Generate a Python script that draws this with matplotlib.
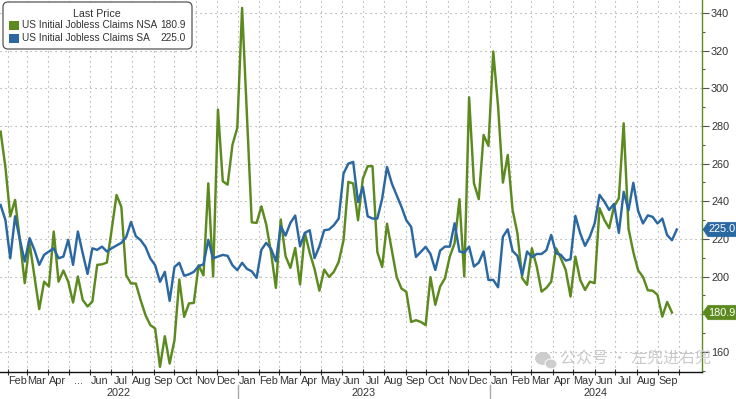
import matplotlib
matplotlib.use("Agg")
import matplotlib.pyplot as plt
import matplotlib.dates as mdates
import matplotlib.transforms as mtrans
from matplotlib import font_manager
from matplotlib.patches import FancyBboxPatch, Rectangle, Ellipse, Polygon
from matplotlib.ticker import FixedLocator, FixedFormatter, NullFormatter
import pandas as pd
import numpy as np

# ---------------- data ----------------
start_week = "2022-01-22"

nsa_name = "US Initial Jobless Claims NSA"
sa_name = "US Initial Jobless Claims SA"

nsa = [277, 258, 232, 240.7, 219, 196.5, 217.7, 200, 182.7, 197.3,
       194.7, 223.9, 197.3, 203.2, 197.3, 186.2, 200, 187.6, 184.1, 186.7,
       206.2, 206.5, 207.4, 225, 243.3, 237, 200.7, 196.3, 196.3, 187.4,
       179.5, 174.2, 172.4, 152, 168.3, 153.8, 166.2, 198.4, 178.6, 185.7,
       186, 206, 200.6, 249.5, 200, 288.7, 250.6, 248.8, 270, 278.9,
       342.7, 286, 228.8, 228.5, 237.3, 227.6, 212.6, 194, 230.3, 210.8,
       204.6, 215.2, 195.8, 223.2, 212.6, 204, 192.5, 203.7, 199.8, 202.5,
       207.8, 219.3, 250.3, 249.4, 229.9, 252, 258.6, 258.6, 213, 205.1,
       228.1, 214, 199.8, 193.6, 191.9, 175.9, 176.8, 175.9, 174.2, 199.7,
       185, 194.7, 199.1, 210.6, 217.7, 241.1, 200, 295.2, 249.6, 241.1,
       275.2, 269.4, 319.5, 290.3, 249.9, 264.6, 235.4, 223, 199.1, 195.6,
       215, 205.3, 192, 194, 197.3, 215, 209.7, 203.5, 189.4, 210.6,
       198.2, 192.9, 197.3, 196.5, 236.3, 230.1, 225.7, 237.2, 241.6, 281.4,
       225.5, 213, 203.3, 199.8, 192.7, 192.5, 190.3, 178.7, 186.5, 180.9]

sa = [238, 230, 209.7, 232, 219.5, 208, 220.4, 214.2, 206.2, 211.5,
      213.3, 215, 209.7, 210.6, 219.5, 206.2, 223.9, 212.4, 201.4, 215,
      214.2, 215.9, 213.3, 215, 216.5, 217.9, 221, 229, 221.4, 219.3,
      215.8, 209.6, 206, 197.2, 202.5, 187.1, 205.1, 207.3, 200.4, 201.2,
      202.5, 205.5, 206.5, 219.5, 209.7, 210.6, 211.5, 211, 206, 203.4,
      207.3, 204.1, 202.8, 199.3, 214.3, 217.9, 214.7, 208.1, 226.7, 221.8,
      228.5, 232.4, 216.1, 223.2, 224.6, 209.8, 216, 224.6, 225, 227.3,
      230.8, 254.7, 260, 260.9, 239.6, 247.6, 232, 230.8, 230.8, 241.4,
      258.2, 249.4, 243.2, 237, 229.9, 226.4, 210.4, 213.1, 215.8, 212,
      203.5, 213.8, 215.9, 215.9, 228.3, 213.3, 212.7, 215.9, 205.3, 207.4,
      213.3, 198.2, 198.2, 194.3, 221.2, 225.1, 213.6, 211, 200.9, 213.3,
      210.3, 212, 212, 214, 222.1, 212.4, 211.5, 208.5, 209.2, 232.2,
      223, 216.3, 221.2, 228.3, 243.4, 239.8, 235.4, 238.6, 223.2, 245,
      235.2, 249.8, 234.8, 228.2, 232.5, 231.7, 228.2, 230.8, 222, 219.3,
      225.0]

month_labels = ["Feb", "Mar", "Apr", "...", "Jun", "Jul", "Aug", "Sep", "Oct", "Nov", "Dec",
                "Jan", "Feb", "Mar", "Apr", "May", "Jun", "Jul", "Aug", "Sep", "Oct", "Nov", "Dec",
                "Jan", "Feb", "Mar", "Apr", "May", "Jun", "Jul", "Aug", "Sep"]
year_labels = ["2022", "2023", "2024"]
y_ticks = [160, 180, 200, 220, 240, 260, 280, 300, 320, 340]

legend_title = "Last Price"
watermark = "公众号 · 左兜进右兜"

# ---------------- style ----------------
GREEN = "#5c8a1e"
BLUE = "#2b68a2"
GRID = "#9a9a9a"
TXT = "#333333"

names = {f.name for f in font_manager.fontManager.ttflist}
if "Liberation Sans Narrow" in names:
    FAM = ["Liberation Sans Narrow", "DejaVu Sans"]
    FS = 8.0
    LFS = 8.8
else:
    FAM = ["Liberation Sans", "DejaVu Sans"]
    FS = 7.2
    LFS = 7.3
plt.rcParams["font.family"] = FAM

nsa_dates = pd.date_range(start_week, periods=len(nsa), freq="7D")
sa_dates = pd.date_range(start_week, periods=len(sa), freq="7D")

W, H = 736, 399
fig = plt.figure(figsize=(W / 100, H / 100), dpi=100)
fig.patch.set_facecolor("white")
ax = fig.add_axes([0, 27 / H, 702 / W, 372 / H])

px_per_day = 4.83 / 7.0
d0 = mdates.date2num(pd.Timestamp(start_week))
x_left = d0 - 0.6 / px_per_day
x_right = x_left + 702 / px_per_day
ax.set_xlim(x_left, x_right)
ax.set_ylim(149.3, 346.9)

ax.plot(nsa_dates, nsa, color=GREEN, lw=1.75, solid_joinstyle="round", zorder=3)
ax.plot(sa_dates, sa, color=BLUE, lw=1.75, solid_joinstyle="round", zorder=4)

# spines
for s in ("top", "left"):
    ax.spines[s].set_visible(False)
ax.spines["right"].set_color(GREEN)
ax.spines["right"].set_linewidth(1.0)
ax.spines["bottom"].set_color("#111111")
ax.spines["bottom"].set_linewidth(1.0)

# y axis on right; a label hidden behind a last-value tag is left blank
ax.yaxis.tick_right()
ax.set_yticks(y_ticks)
hidden = [v for v in y_ticks if abs(v - nsa[-1]) < 4 or abs(v - sa[-1]) < 4]
ax.set_yticklabels(["" if v in hidden else str(v) for v in y_ticks])
ax.yaxis.set_minor_locator(FixedLocator([v + 10 for v in y_ticks[:-1]] + [150]))
ax.tick_params(axis="y", which="major", direction="out", length=5, width=0.8,
               color="#555555", labelsize=FS + 0.6, labelcolor=TXT, pad=1.5)
ax.tick_params(axis="y", which="minor", direction="out", length=2.5, width=0.8, color="#555555")

# x axis: month boundaries (ticks + grid) and mid-month labels
month_starts = pd.date_range("2022-02-01", "2024-10-01", freq="MS")
ax.xaxis.set_major_locator(FixedLocator(mdates.date2num(month_starts)))
ax.xaxis.set_major_formatter(NullFormatter())
mid = [mdates.date2num(d + pd.Timedelta(days=14)) for d in month_starts[:len(month_labels)]]
ax.xaxis.set_minor_locator(FixedLocator(mid))
ax.xaxis.set_minor_formatter(FixedFormatter(month_labels))
ax.tick_params(axis="x", which="major", direction="inout", length=5, width=0.8, color="#333333")
ax.tick_params(axis="x", which="minor", length=0, labelsize=FS + 0.6, labelcolor=TXT, pad=3)

ax.grid(True, which="major", axis="both", linestyle=(0, (1, 3.5)), color=GRID, lw=0.8, zorder=0)

# year labels + separators
blend = mtrans.blended_transform_factory(ax.transData, ax.transAxes)
year_bounds = [x_left,
               mdates.date2num(pd.Timestamp("2023-01-01")),
               mdates.date2num(pd.Timestamp("2024-01-01")),
               x_right]
for i, lab in enumerate(year_labels):
    xc = 0.5 * (year_bounds[i] + year_bounds[i + 1])
    ax.text(xc, -0.056, lab, transform=blend, ha="center", va="center",
            fontsize=FS + 0.6, color=TXT, clip_on=False)
for xb in year_bounds[1:3]:
    ax.plot([xb, xb], [-0.035, -0.075], transform=blend, color="#aaaaaa", lw=1.0, clip_on=False)

# right-side last value tags (pentagon pointing at the axis)
yblend = mtrans.blended_transform_factory(ax.transAxes, ax.transData)
tag_shape = [(0.01, 0.0), (0.06, 0.072), (0.36, 0.072), (0.36, -0.072), (0.06, -0.072)]
for val, col in ((sa[-1], BLUE), (nsa[-1], GREEN)):
    off = fig.dpi_scale_trans + mtrans.ScaledTranslation(1.0, val, yblend)
    poly = Polygon(tag_shape, closed=True, transform=off, fc=col, ec=col, lw=0.5,
                   zorder=10, clip_on=False)
    ax.add_artist(poly)
    ax.text(0.065, 0.0, f"{val:.1f}", transform=off, ha="left", va="center",
            fontsize=FS + 0.6, color="white", clip_on=False, zorder=11)

# legend box (drawn in pixel/inch space)
T = fig.dpi_scale_trans
box = FancyBboxPatch((0.03, (H - 49) / 100), 1.89, 0.47,
                     boxstyle="round,pad=0,rounding_size=0.05",
                     transform=T, fc="white", ec="#555555", lw=0.9, zorder=20)
fig.patches.append(box)
fig.text(0.97, (H - 14) / 100, legend_title, transform=T, ha="center", va="center",
         fontsize=LFS + 0.4, color=TXT, zorder=21)
rows = [((H - 25.5) / 100, GREEN, nsa_name, nsa[-1]),
        ((H - 38) / 100, BLUE, sa_name, sa[-1])]
for yy, col, name, val in rows:
    fig.patches.append(Rectangle((0.09, yy - 0.045), 0.10, 0.09, transform=T,
                                 fc=col, ec="none", zorder=21))
    fig.text(0.215, yy, name, transform=T, ha="left", va="center",
             fontsize=LFS, color=TXT, zorder=21)
    fig.text(1.86, yy, f"{val:.1f}", transform=T, ha="right", va="center",
             fontsize=LFS, color=TXT, zorder=21)

# watermark
fig.patches.append(Ellipse((5.43, 0.405), 0.16, 0.13, transform=T, fc="#c9c9c9", ec="none", alpha=0.9, zorder=15))
fig.patches.append(Ellipse((5.51, 0.35), 0.12, 0.10, transform=T, fc="#c9c9c9", ec="white", lw=0.8, alpha=0.9, zorder=16))
fig.text(5.60, 0.40, watermark, transform=T, ha="left", va="center", fontsize=11.5,
         color="#c4c4c4", alpha=0.9, family=["Noto Sans CJK SC", "DejaVu Sans"], zorder=15)

fig.savefig("out.png", dpi=100, facecolor="white")
